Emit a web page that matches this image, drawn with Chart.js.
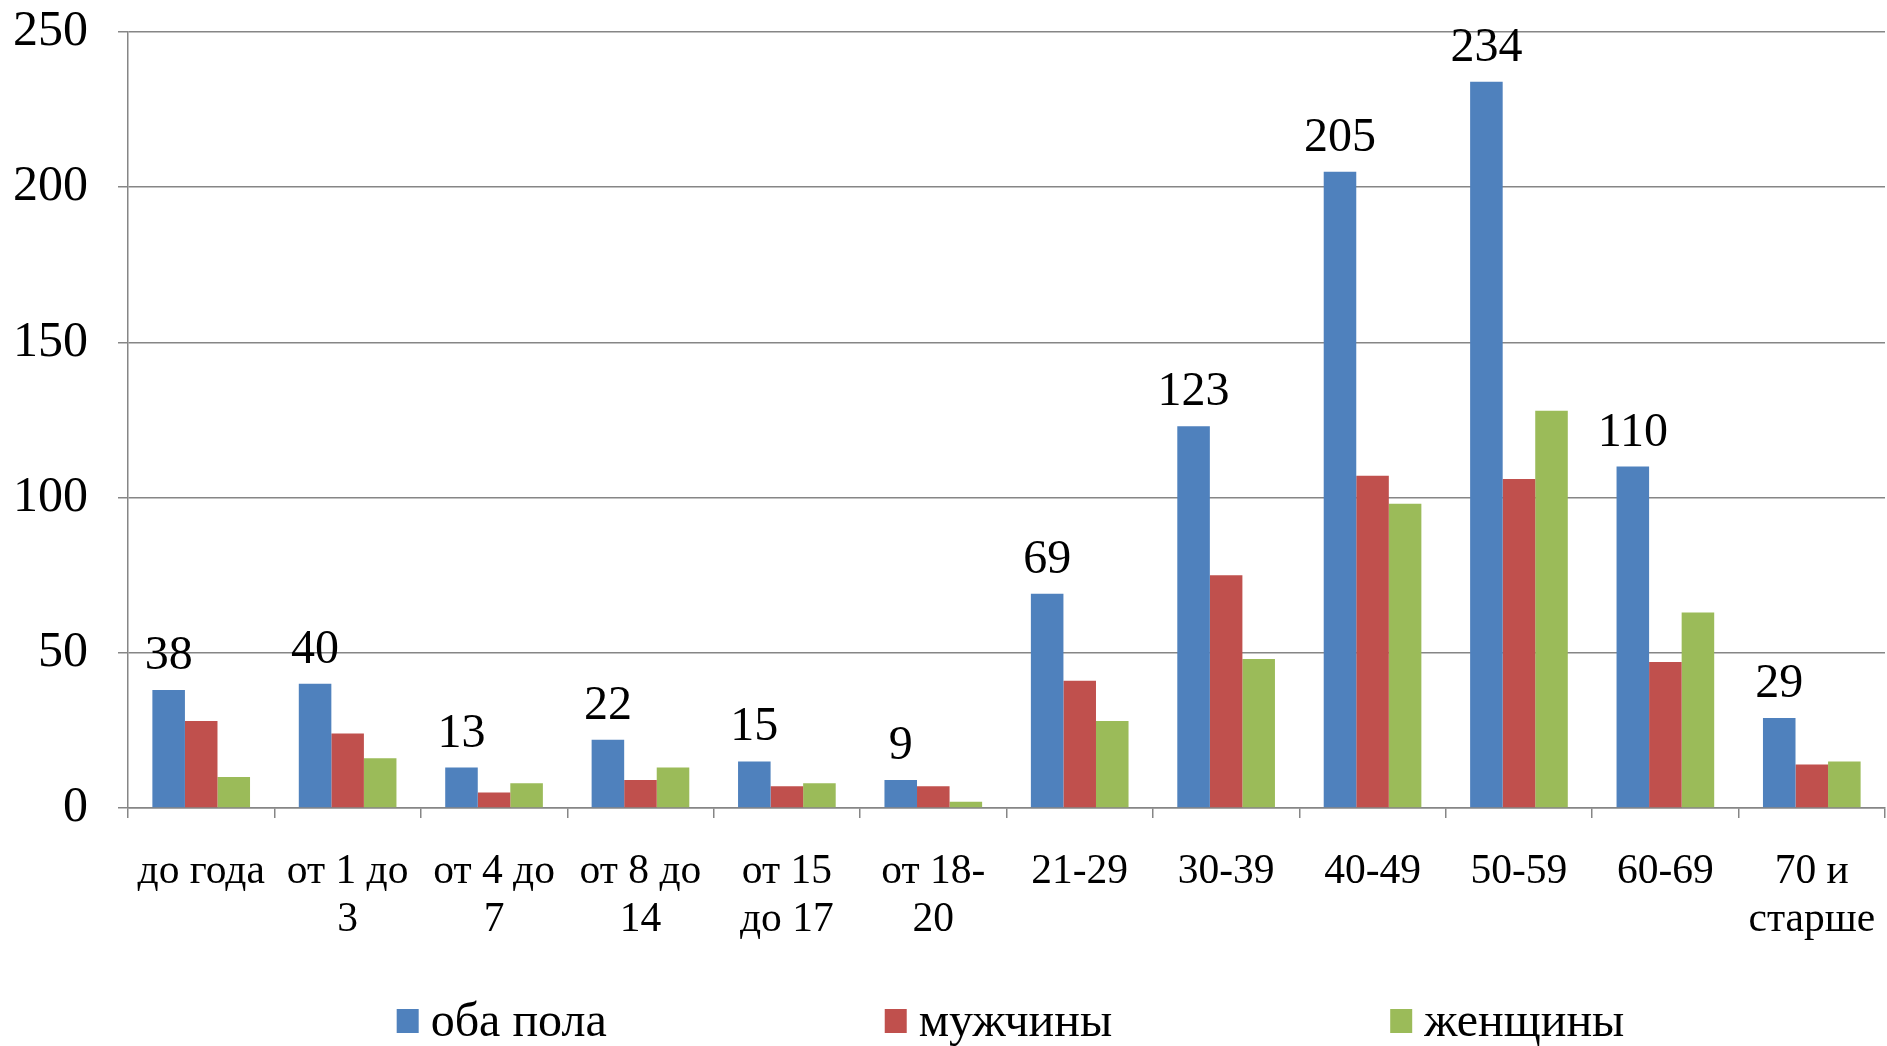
<!DOCTYPE html>
<html>
<head>
<meta charset="utf-8">
<script src="https://cdn.jsdelivr.net/npm/chart.js@4"></script>
<style>
  html, body { margin: 0; padding: 0; background: #fff; }
  #wrap { width: 1887px; height: 1046px; }
</style>
</head>
<body>
<div id="wrap"><canvas id="ageChart" width="1887" height="1046"></canvas></div>
<script>
// ==============================
// DATA
// ==============================
const ageGroups = [
  'до года', ['от 1 до', '3'], ['от 4 до', '7'], ['от 8 до', '14'],
  ['от 15', 'до 17'], ['от 18-', '20'], '21-29', '30-39', '40-49',
  '50-59', '60-69', ['70 и', 'старше']
];
const bothSexes = [38, 40, 13, 22, 15, 9, 69, 123, 205, 234, 110, 29];
const men       = [28, 24, 5, 9, 7, 7, 41, 75, 107, 106, 47, 14];
const women     = [10, 16, 8, 13, 8, 2, 28, 48, 98, 128, 63, 15];
const yTicks    = [0, 50, 100, 150, 200, 250];

const seriesNames = ['оба пола', 'мужчины', 'женщины'];
const seriesColors = ['#4F81BD', '#C0504D', '#9BBB59'];

const serif = "'Liberation Serif', 'Times New Roman', serif";
Chart.defaults.font.family = serif;
Chart.defaults.color = '#000';

// ==============================
// VALUE LABELS (only first series)
// ==============================
const valueLabels = {
  id: 'valueLabels',
  afterDatasetsDraw(chart) {
    const ctx = chart.ctx;
    const meta = chart.getDatasetMeta(0);
    ctx.save();
    ctx.font = '48px ' + serif;
    ctx.fillStyle = '#000';
    ctx.textAlign = 'center';
    ctx.textBaseline = 'alphabetic';
    meta.data.forEach((bar, i) => {
      ctx.fillText(String(bothSexes[i]), bar.x, bar.y - 21);
    });
    ctx.restore();
  }
};

// ==============================
// LEGEND (drawn by hand, wide gaps)
// ==============================
const wideLegend = {
  id: 'wideLegend',
  afterDraw(chart) {
    const ctx = chart.ctx;
    const area = chart.chartArea;
    const box = 22, boxH = 24, gapText = 12, gapItem = 278;
    ctx.save();
    ctx.font = '48px ' + serif;
    const widths = seriesNames.map(t => box + gapText + ctx.measureText(t).width);
    const total = widths.reduce((a, b) => a + b, 0) + gapItem * (widths.length - 1);
    let x = (area.left + area.right) / 2 - total / 2 + 4;
    const y = 1021;
    ctx.textBaseline = 'middle';
    ctx.textAlign = 'left';
    seriesNames.forEach((t, i) => {
      ctx.fillStyle = seriesColors[i];
      ctx.fillRect(x, y - boxH / 2, box, boxH);
      ctx.fillStyle = '#000';
      ctx.fillText(t, x + box + gapText, y + 2);
      x += widths[i] + gapItem;
    });
    ctx.restore();
  }
};

// ==============================
// CHART
// ==============================
new Chart(document.getElementById('ageChart'), {
  type: 'bar',
  data: {
    labels: ageGroups,
    datasets: [bothSexes, men, women].map((d, i) => ({
      label: seriesNames[i],
      data: d,
      backgroundColor: seriesColors[i],
      borderWidth: 0,
      categoryPercentage: 0.667,
      barPercentage: 1.0
    }))
  },
  options: {
    responsive: false,
    animation: false,
    layout: { padding: { left: 12, right: 2, top: 32, bottom: 72 } },
    plugins: {
      legend: { display: false },
      tooltip: { enabled: false }
    },
    scales: {
      x: {
        afterFit: axis => { axis.paddingLeft = 0; axis.paddingRight = 0; },
        grid: { offset: true, drawOnChartArea: false, drawTicks: true, tickLength: 10, color: '#868686', lineWidth: 1.5 },
        border: { color: '#868686', width: 1.5 },
        ticks: { font: { size: 41.5, lineHeight: 1.157 }, padding: 30, maxRotation: 0, autoSkip: false }
      },
      y: {
        min: 0,
        max: 250,
        afterBuildTicks: axis => { axis.ticks = yTicks.map(v => ({ value: v })); },
        afterFit: axis => { axis.width = 116; axis.paddingTop = 0; axis.paddingBottom = 0; },
        grid: { color: '#868686', lineWidth: 1.5, tickLength: 10 },
        border: { color: '#868686', width: 1.5 },
        ticks: { font: { size: 50 }, padding: 30 }
      }
    }
  },
  plugins: [valueLabels, wideLegend]
});
</script>
</body>
</html>
